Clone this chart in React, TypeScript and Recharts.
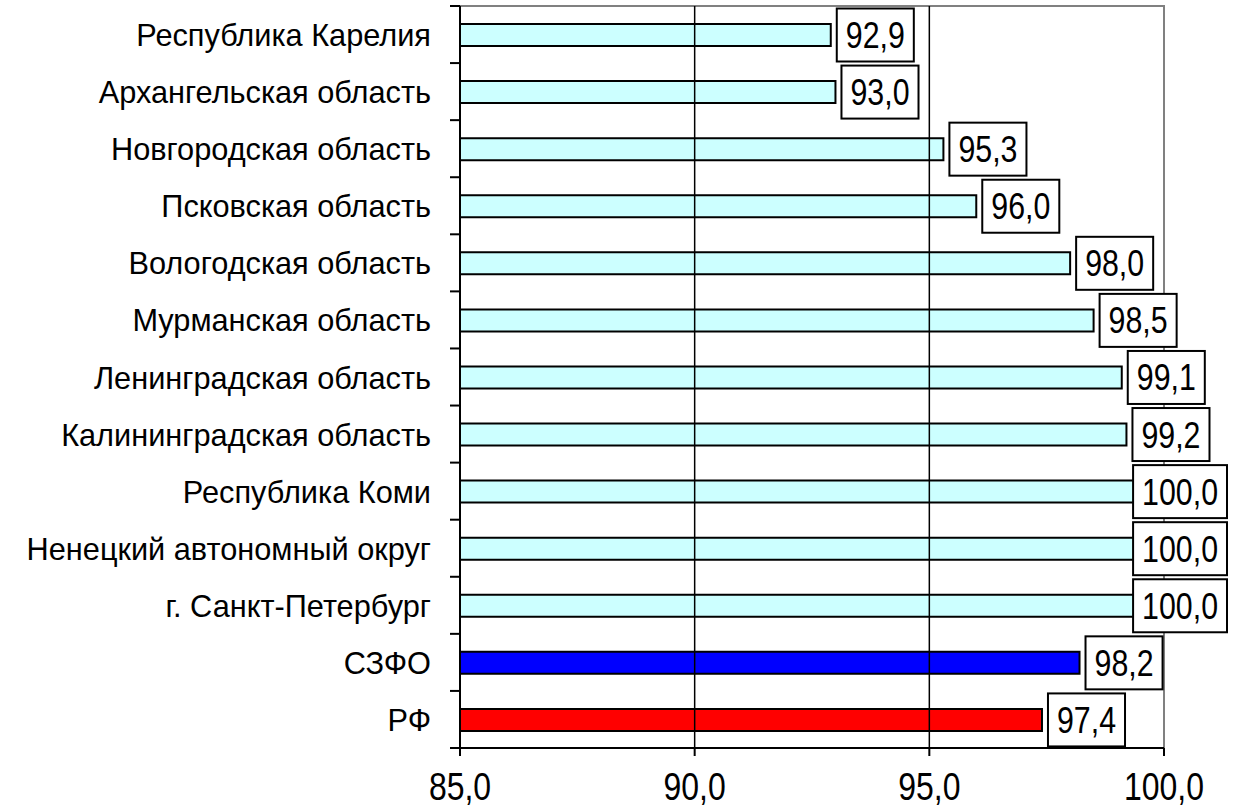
import React from 'react';
import {
  BarChart,
  Bar,
  XAxis,
  YAxis,
  Cell,
  LabelList,
  ReferenceLine,
  ReferenceArea,
} from 'recharts';

const regions = [
  'Республика Карелия',
  'Архангельская область',
  'Новгородская область',
  'Псковская область',
  'Вологодская область',
  'Мурманская область',
  'Ленинградская область',
  'Калининградская область',
  'Республика Коми',
  'Ненецкий автономный округ',
  'г. Санкт-Петербург',
  'СЗФО',
  'РФ',
];
const values = [92.9, 93.0, 95.3, 96.0, 98.0, 98.5, 99.1, 99.2, 100.0, 100.0, 100.0, 98.2, 97.4];
const barColors = [
  '#CCFFFF', '#CCFFFF', '#CCFFFF', '#CCFFFF', '#CCFFFF', '#CCFFFF', '#CCFFFF',
  '#CCFFFF', '#CCFFFF', '#CCFFFF', '#CCFFFF', '#0000FF', '#FF0000',
];
const xTicks = [85, 90, 95, 100];
const gridLines = [90, 95];

const CHART_W = 1234;
const CHART_H = 811;
// no Arial Narrow here, so squeeze Liberation Sans horizontally
const FONT = "'Liberation Sans', Arial, sans-serif";
const NARROW = 0.82;

const data = regions.map((name, i) => ({ name, value: values[i] }));

const fmt = (v: number) => v.toFixed(1).replace('.', ',');

const textWidth = (s: string, fs: number) =>
  s.split('').reduce((w, ch) => w + (ch === ',' ? 0.278 : 0.556) * fs * NARROW, 0);

const NarrowText = ({ x, y, anchor, fs, sx = NARROW, children }: any) => (
  <text
    transform={`translate(${x},${y}) scale(${sx},1)`}
    textAnchor={anchor}
    fontSize={fs}
    fontFamily={FONT}
    fill="#000"
  >
    {children}
  </text>
);

const renderValueLabel = (props: any) => {
  const { x, y, width, height, value } = props;
  const text = fmt(Number(value));
  const fs = 37;
  const boxW = textWidth(text, fs) + 18;
  const boxH = 53;
  let bx = Number(x) + Number(width) + 6;
  if (bx + boxW > CHART_W - 7) bx = CHART_W - 7 - boxW;
  const cy = Number(y) + Number(height) / 2;
  return (
    <g>
      <rect x={bx} y={cy - boxH / 2} width={boxW} height={boxH} fill="#fff" stroke="#000" strokeWidth={2} />
      <NarrowText x={bx + boxW / 2} y={cy + 13} anchor="middle" fs={fs}>
        {text}
      </NarrowText>
    </g>
  );
};

const CategoryTick = (props: any) => {
  const { x, y, payload, index } = props;
  const half = payload.offset ?? 0;
  const axisX = x + 29;
  return (
    <g>
      <line x1={axisX - 10} x2={axisX} y1={y - half} y2={y - half} stroke="#000" strokeWidth={2} />
      {index === regions.length - 1 && (
        <line x1={axisX - 10} x2={axisX} y1={y + half} y2={y + half} stroke="#000" strokeWidth={2} />
      )}
      <NarrowText x={x} y={y + 11.5} anchor="end" fs={32} sx={0.96}>
        {payload.value}
      </NarrowText>
    </g>
  );
};

const ValueTick = (props: any) => {
  const { x, y, payload } = props;
  return (
    <NarrowText x={x} y={y + 44} anchor="middle" fs={39}>
      {fmt(Number(payload.value))}
    </NarrowText>
  );
};

export default function App() {
  return (
    <div style={{ position: 'absolute', left: 0, top: 0, background: '#fff' }}>
      <BarChart
        width={CHART_W}
        height={CHART_H}
        data={data}
        layout="vertical"
        margin={{ top: 6, right: 70, left: 0, bottom: 0 }}
        barSize={22}
      >
        <XAxis
          type="number"
          domain={[85, 100]}
          ticks={xTicks}
          interval={0}
          height={63}
          tickSize={8}
          tickMargin={0}
          axisLine={{ stroke: '#000', strokeWidth: 2 }}
          tickLine={{ stroke: '#000', strokeWidth: 2 }}
          tick={<ValueTick />}
        />
        <YAxis
          type="category"
          dataKey="name"
          width={460}
          interval={0}
          tickSize={0}
          tickMargin={29}
          tickLine={false}
          axisLine={{ stroke: '#000', strokeWidth: 2 }}
          tick={<CategoryTick />}
        />
        <ReferenceArea x1={85} x2={100} fill="none" stroke="#808080" strokeWidth={2} ifOverflow="visible" />
        {gridLines.map((g) => (
          <ReferenceLine key={g} x={g} stroke="#000" strokeWidth={1.5} />
        ))}
        <Bar dataKey="value" stroke="#000" strokeWidth={2} isAnimationActive={false}>
          {data.map((d, i) => (
            <Cell key={d.name} fill={barColors[i]} />
          ))}
          <LabelList dataKey="value" content={renderValueLabel} />
        </Bar>
      </BarChart>
    </div>
  );
}
